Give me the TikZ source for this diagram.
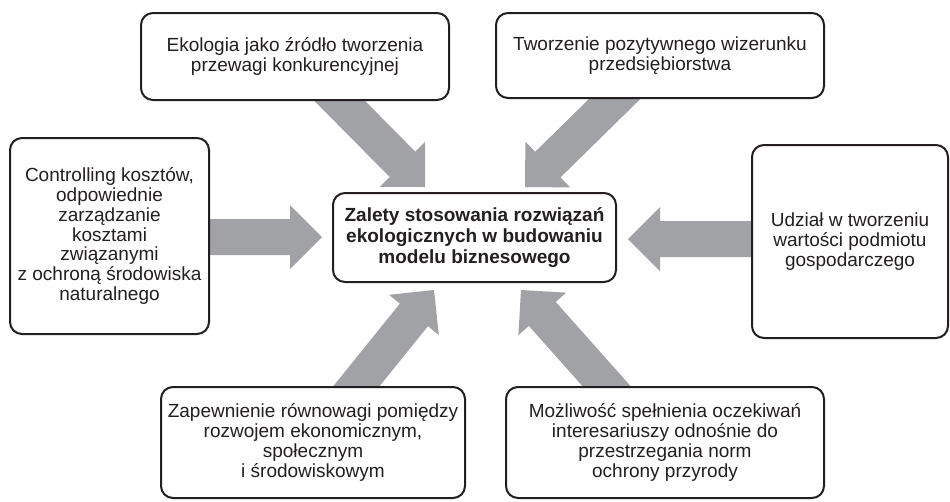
\documentclass[tikz,border=0pt]{standalone}
\usepackage{fontspec}
\setmainfont{Liberation Sans}
\usetikzlibrary{calc,backgrounds}

\definecolor{arrowgray}{RGB}{161,162,165}
\definecolor{ink}{RGB}{35,31,32}

% broad block arrow from #1 (tail) to #2 (tip)
\newcommand\blockarrow[2]{%
  \coordinate (hb) at ($(#2)!24pt!(#1)$);
  \fill[arrowgray]
    ($(#1)!13.5pt!90:(#2)$) --
    ($(hb)!13.5pt!90:(#2)$) --
    ($(hb)!24pt!90:(#2)$) --
    (#2) --
    ($(hb)!24pt!-90:(#2)$) --
    ($(hb)!13.5pt!-90:(#2)$) --
    ($(#1)!13.5pt!-90:(#2)$) -- cycle;
}

\tikzset{
  box/.style={draw=ink, line width=1.5pt, rounded corners=9pt, fill=white,
    align=center, inner sep=0pt, text=ink,
    font={\fontsize{14.25pt}{14.8pt}\selectfont}},
  hub/.style={box, font={\bfseries\fontsize{14.25pt}{15.6pt}\selectfont}},
}

\begin{document}
\begin{tikzpicture}[x=0.75pt,y=-0.75pt]
\useasboundingbox (0,0) rectangle (950,501);

% central statement
\node[hub, minimum width=212.25pt, minimum height=66.75pt] (c) at (474.5,237.5)
  {Zalety stosowania rozwiązań\\ekologicznych w budowaniu\\modelu biznesowego};

% surrounding advantages
\node[box, minimum width=231pt, minimum height=65.25pt] (tl) at (295,56.5)
  {Ekologia jako źródło tworzenia\\przewagi konkurencyjnej};
\node[box, minimum width=246pt, minimum height=63.75pt] (tr) at (660,55.5)
  {Tworzenie pozytywnego wizerunku\\przedsiębiorstwa};
\node[box, minimum width=149.25pt, minimum height=147pt] (l) at (109.5,236)
  {Controlling kosztów,\\odpowiednie\\zarządzanie\\kosztami\\związanymi\\z ochroną środowiska\\naturalnego};
\node[box, minimum width=147pt, minimum height=144.75pt] (r) at (850,241.5)
  {Udział w tworzeniu\\wartości podmiotu\\gospodarczego};
\node[box, minimum width=228pt, minimum height=83.25pt] (bl) at (313,442.5)
  {Zapewnienie równowagi pomiędzy\\rozwojem ekonomicznym,\\społecznym\\i środowiskowym};
\node[box, minimum width=238.5pt, minimum height=83.25pt] (br) at (665,442.5)
  {Możliwość spełnienia oczekiwań\\interesariuszy odnośnie do\\przestrzegania norm\\ochrony przyrody};

% arrow tails (hidden under the boxes) and tips (next to the hub)
\coordinate (tl-out) at (319,80);    \coordinate (c-tl) at (425,187);
\coordinate (tr-out) at (636,78);    \coordinate (c-tr) at (525,187);
\coordinate (l-out)  at (181,237);   \coordinate (c-l)  at (322,237);
\coordinate (r-out)  at (780,239);   \coordinate (c-r)  at (628,239);
\coordinate (bl-out) at (338,409);   \coordinate (c-bl) at (434,290);
\coordinate (br-out) at (626,408);   \coordinate (c-br) at (521,290);

\begin{pgfonlayer}{background}
  \blockarrow{tl-out}{c-tl}
  \blockarrow{tr-out}{c-tr}
  \blockarrow{l-out}{c-l}
  \blockarrow{r-out}{c-r}
  \blockarrow{bl-out}{c-bl}
  \blockarrow{br-out}{c-br}
\end{pgfonlayer}
\end{tikzpicture}
\end{document}
